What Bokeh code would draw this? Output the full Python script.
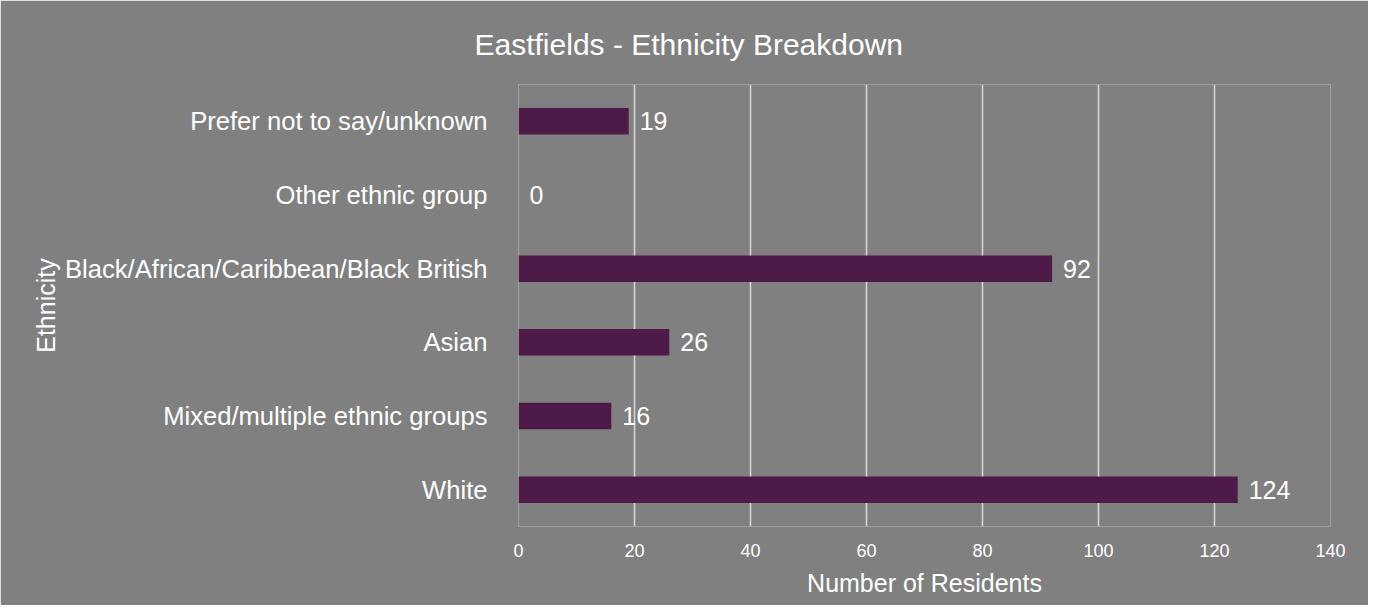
from bokeh.plotting import figure
from bokeh.models import FactorRange, Range1d, FixedTicker, ColumnDataSource, LabelSet
from bokeh.core.properties import value
from bokeh.embed import file_html
from bokeh.resources import INLINE

categories = ["White", "Mixed/multiple ethnic groups", "Asian",
              "Black/African/Caribbean/Black British", "Other ethnic group",
              "Prefer not to say/unknown"]
values = [124, 16, 26, 92, 0, 19]
x_ticks = [0, 20, 40, 60, 80, 100, 120, 140]
title_text = "Eastfields - Ethnicity Breakdown"

FONT = "Liberation Sans"
BG = "#808080"

src = ColumnDataSource(dict(cat=categories, val=values, lab=[str(v) for v in values]))

p = figure(width=1368, height=605, output_backend="svg", toolbar_location=None,
           y_range=FactorRange(factors=categories), x_range=Range1d(0, 140),
           min_border_left=518, min_border_right=38, min_border_top=84, min_border_bottom=79,
           title=title_text)

p.background_fill_color = BG
p.border_fill_color = BG
p.outline_line_color = None

p.title.align = "left"
p.title.offset = -44
p.title.vertical_align = "top"
p.title.text_color = "white"
p.title.text_font = FONT
p.title.text_font_size = "30px"
p.title.text_font_style = "normal"
p.title.standoff = 44

p.hbar(y="cat", right="val", left=0, height=0.36, source=src,
       fill_color="#4E1A47", line_color=None)

labels = LabelSet(x="val", y="cat", text="lab", source=src, x_offset=11,
                  text_baseline="middle", text_color="white", text_font=value(FONT),
                  text_font_size="25px")
p.add_layout(labels)

p.xaxis.ticker = FixedTicker(ticks=x_ticks)
p.xaxis.axis_line_color = None
p.xaxis.major_tick_line_color = None
p.xaxis.minor_tick_line_color = None
p.xaxis.major_label_text_color = "white"
p.xaxis.major_label_text_font = FONT
p.xaxis.major_label_text_font_size = "18px"
p.xaxis.major_label_standoff = 11
p.xaxis.axis_label = "Number of Residents"
p.xaxis.axis_label_text_color = "white"
p.xaxis.axis_label_text_font = FONT
p.xaxis.axis_label_text_font_size = "25px"
p.xaxis.axis_label_text_font_style = "normal"
p.xaxis.axis_label_standoff = 9

p.yaxis.axis_line_color = None
p.yaxis.major_tick_line_color = None
p.yaxis.minor_tick_line_color = None
p.yaxis.major_label_text_color = "white"
p.yaxis.major_label_text_font = FONT
p.yaxis.major_label_text_font_size = "25.6px"
p.yaxis.major_label_standoff = 25
p.yaxis.axis_label = "Ethnicity"
p.yaxis.axis_label_text_color = "white"
p.yaxis.axis_label_text_font = FONT
p.yaxis.axis_label_text_font_size = "25px"
p.yaxis.axis_label_text_font_style = "normal"
p.yaxis.axis_label_standoff = 2

p.xgrid.grid_line_color = "#D9D9D9"
p.xgrid.grid_line_width = 1.5
p.ygrid.grid_line_color = None

open("out.html", "w").write(file_html(p, INLINE))
